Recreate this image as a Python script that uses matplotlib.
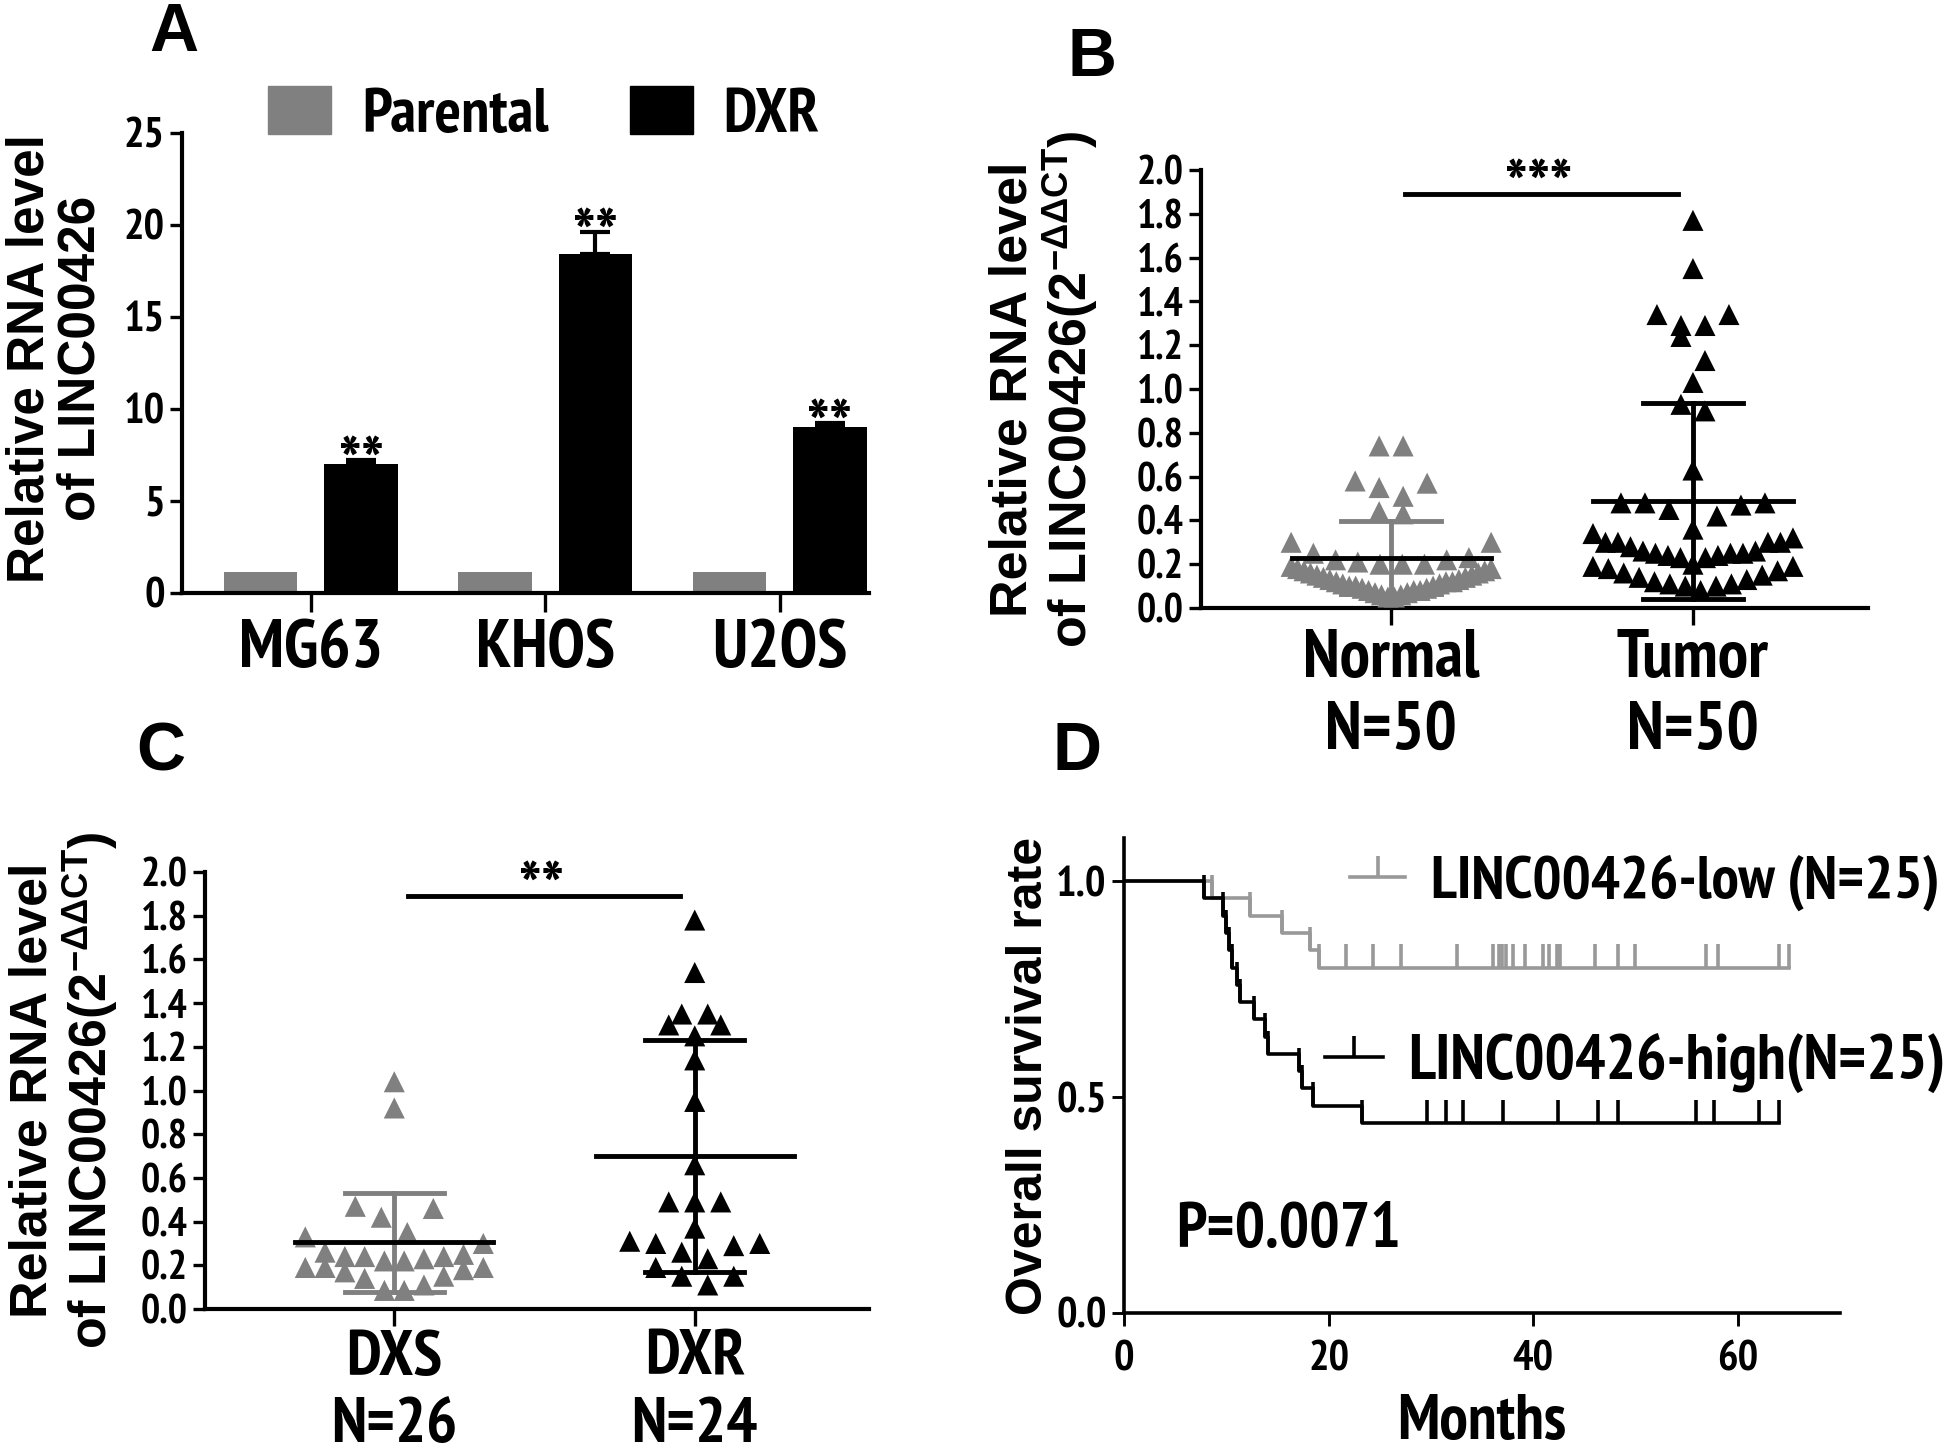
import numpy as np
import matplotlib
matplotlib.use("Agg")
import matplotlib.pyplot as plt
from matplotlib.path import Path
from matplotlib.lines import Line2D
from matplotlib.patches import Patch

NARROW = ['PT Sans Narrow', 'Fira Sans Condensed', 'Liberation Sans', 'DejaVu Sans']
WIDE = ['Liberation Sans', 'DejaVu Sans']
plt.rcParams['font.family'] = NARROW
plt.rcParams['font.weight'] = 'bold'
plt.rcParams['axes.labelweight'] = 'bold'
plt.rcParams['mathtext.fontset'] = 'custom'
plt.rcParams['mathtext.rm'] = 'Liberation Sans:bold'
plt.rcParams['mathtext.it'] = 'Liberation Sans:bold'
plt.rcParams['mathtext.bf'] = 'Liberation Sans:bold'

GREY = '#808080'
LGREY = '#999999'

# ---- panel A : qPCR in cell lines
cell_lines = ['MG63', 'KHOS', 'U2OS']
parental = [1.15, 1.15, 1.15]
dxr = [7.0, 18.4, 9.0]
dxr_err = [0.25, 1.2, 0.25]

# ---- panel B : tissue samples
normal_vals = [0.74, 0.74, 0.58, 0.57, 0.55, 0.51, 0.44, 0.43, 0.30, 0.30,
               0.25, 0.22, 0.21, 0.20, 0.20, 0.20, 0.22, 0.23,
               0.05, 0.05, 0.06, 0.06, 0.07, 0.07, 0.08, 0.08, 0.08, 0.09,
               0.09, 0.10, 0.10, 0.10, 0.11, 0.11, 0.12, 0.12, 0.12, 0.13,
               0.13, 0.14, 0.14, 0.15, 0.15, 0.16, 0.16, 0.17, 0.17, 0.18,
               0.18, 0.19]
tumor_vals = [1.77, 1.55, 1.34, 1.34, 1.29, 1.29, 1.24, 1.13, 1.03, 0.93,
              0.90, 0.63, 0.48, 0.47, 0.48, 0.48, 0.45, 0.42, 0.36, 0.34,
              0.32, 0.30, 0.30, 0.30, 0.30, 0.28, 0.26, 0.25, 0.24, 0.23,
              0.23, 0.24, 0.25, 0.25, 0.26, 0.19, 0.17, 0.15, 0.14, 0.16,
              0.18, 0.20, 0.19, 0.11, 0.10, 0.10, 0.11, 0.12, 0.13, 0.08]
b_groups = ['Normal\nN=50', 'Tumor\nN=50']
b_mean = [0.23, 0.49]
b_sd = [0.165, 0.447]

# ---- panel C : DXS vs DXR
dxs_vals = [1.04, 0.92, 0.46, 0.47, 0.42, 0.35, 0.33, 0.30, 0.26, 0.24,
            0.24, 0.22, 0.22, 0.23, 0.24, 0.25, 0.19, 0.18, 0.15, 0.17,
            0.19, 0.19, 0.14, 0.11, 0.085, 0.085]
dxrc_vals = [1.78, 1.54, 1.35, 1.35, 1.30, 1.30, 1.25, 1.14, 0.95, 0.66,
             0.49, 0.49, 0.49, 0.37, 0.30, 0.29, 0.26, 0.30, 0.31, 0.23,
             0.19, 0.15, 0.15, 0.11]
c_groups = ['DXS\nN=26', 'DXR\nN=24']
c_mean = [0.305, 0.70]
c_sd = [0.225, 0.53]

# ---- panel D : Kaplan-Meier
low_event_t = [8.65, 12.35, 15.4, 18.2, 19.1]
low_levels = [0.96, 0.92, 0.88, 0.84, 0.80]
low_censor_t = [21.7, 24.3, 27.05, 32.6, 36.1, 36.7, 37.0, 37.3, 38.0, 39.2,
                41.0, 41.55, 42.35, 42.6, 46.0, 48.3, 50.0, 56.9, 58.1, 64.0, 65.0]
low_end = 65.0
high_event_t = [7.8, 9.7, 10.0, 10.3, 10.6, 11.0, 11.3, 12.7, 13.8, 14.1,
                17.1, 17.4, 18.5, 23.3]
high_levels = [0.96, 0.92, 0.88, 0.84, 0.80, 0.76, 0.72, 0.68, 0.64, 0.60,
               0.56, 0.52, 0.48, 0.44]
high_censor_t = [29.6, 31.5, 33.1, 37.1, 42.4, 46.3, 48.3, 55.9, 57.7, 62.1, 64.0]
high_end = 64.0

W, H = 1946, 1455
fig = plt.figure(figsize=(W / 100, H / 100), dpi=100)


def box(l, r, t, b):
    return [l / W, 1 - b / H, (r - l) / W, (b - t) / H]


def style(ax, lw=3.0):
    for s in ['top', 'right']:
        ax.spines[s].set_visible(False)
    for s in ['left', 'bottom']:
        ax.spines[s].set_linewidth(lw)
    ax.tick_params(width=lw * 0.8, length=9, direction='out')


def row_scatter(ax, vals, center, origin, bin_h, gap_px, half_px):
    # prism-like column scatter: values grouped in rows, spread centre-out
    vals = np.asarray(vals, float)
    ppu = ax.transData.transform((1, 0))[0] - ax.transData.transform((0, 0))[0]
    off = np.zeros(len(vals))
    rows = np.floor((vals - origin) / bin_h + 1e-9).astype(int)
    for r in np.unique(rows):
        idx = np.where(rows == r)[0]
        idx = idx[np.argsort(vals[idx], kind='stable')]
        n = len(idx)
        s = gap_px if n < 2 else min(gap_px, 2 * half_px / (n - 1))
        pos = (np.arange(n) - (n - 1) / 2) * s
        slots = pos[np.lexsort((-pos, np.round(np.abs(pos), 6)))]
        off[idx] = slots
    return center + off / ppu


def dot_panel(ax, groups_vals, colors, labels, means, sds, stars, lab_size, lay):
    ax.set_xlim(-0.63, 1.58)
    ax.set_ylim(0, 2.0)
    ax.set_yticks(np.arange(0, 2.01, 0.2))
    ax.set_yticklabels(['%.1f' % v for v in np.arange(0, 2.01, 0.2)], fontsize=29)
    ax.set_xticks([0, 1])
    ax.set_xticklabels(labels, fontsize=lab_size, linespacing=1.2)
    ax.tick_params(axis='x', length=12, pad=3)
    for k, (vals, col) in enumerate(zip(groups_vals, colors)):
        xs = row_scatter(ax, vals, k, *lay)
        ax.scatter(xs, vals, marker='^', s=230, color=col, edgecolors='none',
                   zorder=3, clip_on=False)
        m, sd = means[k], sds[k]
        ax.plot([k, k], [m - sd, m + sd], color=col, lw=3.5, zorder=4)
        ax.plot([k - 0.165, k + 0.165], [m + sd] * 2, color=col, lw=3.5, zorder=4)
        ax.plot([k - 0.165, k + 0.165], [m - sd] * 2, color=col, lw=3.5, zorder=4)
        ax.plot([k - 0.33, k + 0.33], [m, m], color='black', lw=3.5, zorder=4)
    ax.plot([0.046, 0.952], [1.89, 1.89], color='black', lw=3.5, clip_on=False)
    ax.text(0.49, 1.905, stars, ha='center', va='center', fontsize=50)


# ---------------- A
axA = fig.add_axes(box(182, 869, 133, 593))
style(axA)
xA = np.arange(len(cell_lines))
axA.bar(xA - 0.215, parental, 0.313, color=GREY)
axA.bar(xA + 0.213, dxr, 0.313, color='black')
axA.errorbar(xA + 0.213, dxr, yerr=[np.zeros(3), dxr_err], fmt='none', ecolor='black',
             elinewidth=3, capsize=11, capthick=3)
for x, v, e in zip(xA, dxr, dxr_err):
    axA.text(x + 0.213, v + e - 0.45, '**', ha='center', va='center', fontsize=50)
axA.set_xlim(-0.55, 2.38)
axA.set_ylim(0, 25)
axA.set_yticks(range(0, 26, 5))
axA.tick_params(axis='y', labelsize=31)
axA.set_xticks(xA)
axA.set_xticklabels(cell_lines, fontsize=49)
axA.tick_params(axis='x', length=14, pad=5)
axA.set_ylabel('Relative RNA level\nof LINC00426', fontsize=37, family=WIDE, linespacing=1.05)
axA.yaxis.set_label_coords(-0.112, 0.51)
fig.legend([Patch(color=GREY), Patch(color='black')], ['Parental', 'DXR'], ncol=2,
           loc='center', bbox_to_anchor=(544 / W, 1 - 115 / H), frameon=False,
           fontsize=45, handlelength=1.0, handleheight=0.8, handletextpad=0.5,
           columnspacing=1.3)

# ---------------- B
axB = fig.add_axes(box(1201, 1868, 170, 608))
style(axB)
dot_panel(axB, [normal_vals, tumor_vals], [GREY, 'black'], b_groups, b_mean, b_sd, '***',
          lab_size=49, lay=(0.05, 0.15, 24, 100))
axB.set_ylabel('Relative RNA level\nof LINC00426(2$^{-ΔΔCT}$)', fontsize=37.5, family=WIDE,
               linespacing=1.05)
axB.yaxis.set_label_coords(-0.152, 0.5)

# ---------------- C
axC = fig.add_axes(box(205, 869, 872, 1309))
style(axC)
dot_panel(axC, [dxs_vals, dxrc_vals], [GREY, 'black'], c_groups, c_mean, c_sd, '**',
          lab_size=47, lay=(0.06, 0.14, 26, 89))
axC.set_ylabel('Relative RNA level\nof LINC00426(2$^{-ΔΔCT}$)', fontsize=37.5, family=WIDE,
               linespacing=1.05)
axC.yaxis.set_label_coords(-0.128, 0.5)

# ---------------- D
axD = fig.add_axes(box(1124, 1840, 838, 1313))
style(axD, lw=2.6)
tick_h = 0.054
for ev, lev, cen, end, col in [(low_event_t, low_levels, low_censor_t, low_end, LGREY),
                               (high_event_t, high_levels, high_censor_t, high_end, 'black')]:
    axD.step([0] + ev + [end], [1.0] + lev + [lev[-1]], where='post', color=col, lw=2.6)
    axD.vlines(ev, lev, np.array(lev) + tick_h, color=col, lw=2.6)
    axD.vlines(cen, lev[-1], lev[-1] + tick_h, color=col, lw=2.6)
axD.set_xlim(0, 70)
axD.set_ylim(0, 1.1)
axD.set_xticks([0, 20, 40, 60])
axD.set_yticks([0, 0.5, 1.0])
axD.set_yticklabels(['0.0', '0.5', '1.0'])
axD.tick_params(labelsize=31)
axD.tick_params(axis='x', pad=11)
axD.set_xlabel('Months', fontsize=46, labelpad=10)
axD.set_ylabel('Overall survival rate', fontsize=36, family=WIDE)
axD.yaxis.set_label_coords(-0.10, 0.5)
axD.text(5.1, 0.19, 'P=0.0071', fontsize=46, va='center', ha='left')

tick_path = Path([(0, 0), (0, 1)], [Path.MOVETO, Path.LINETO])
legD1 = axD.legend([Line2D([], [], color=LGREY, lw=2.6, marker=tick_path, markersize=30,
                           markeredgewidth=2.6)], ['LINC00426-low (N=25)'],
                   loc='center left', bbox_to_anchor=(0.316, 0.905),
                   frameon=False, fontsize=44, handlelength=0.9, handletextpad=0.42,
                   borderaxespad=0, borderpad=0)
axD.add_artist(legD1)
axD.legend([Line2D([], [], color='black', lw=2.6, marker=tick_path, markersize=30,
                   markeredgewidth=2.6)], ['LINC00426-high(N=25)'],
           loc='center left', bbox_to_anchor=(0.281, 0.525),
           frameon=False, fontsize=46, handlelength=0.9, handletextpad=0.4,
           borderaxespad=0, borderpad=0)

# panel letters
for letter, (x, y) in zip('ABCD', [(174, 33), (1092, 58), (161, 752), (1077, 752)]):
    fig.text(x / W, 1 - y / H, letter, ha='center', va='center', fontsize=49,
             family=WIDE, weight='bold')

fig.savefig('out.png', dpi=100)
